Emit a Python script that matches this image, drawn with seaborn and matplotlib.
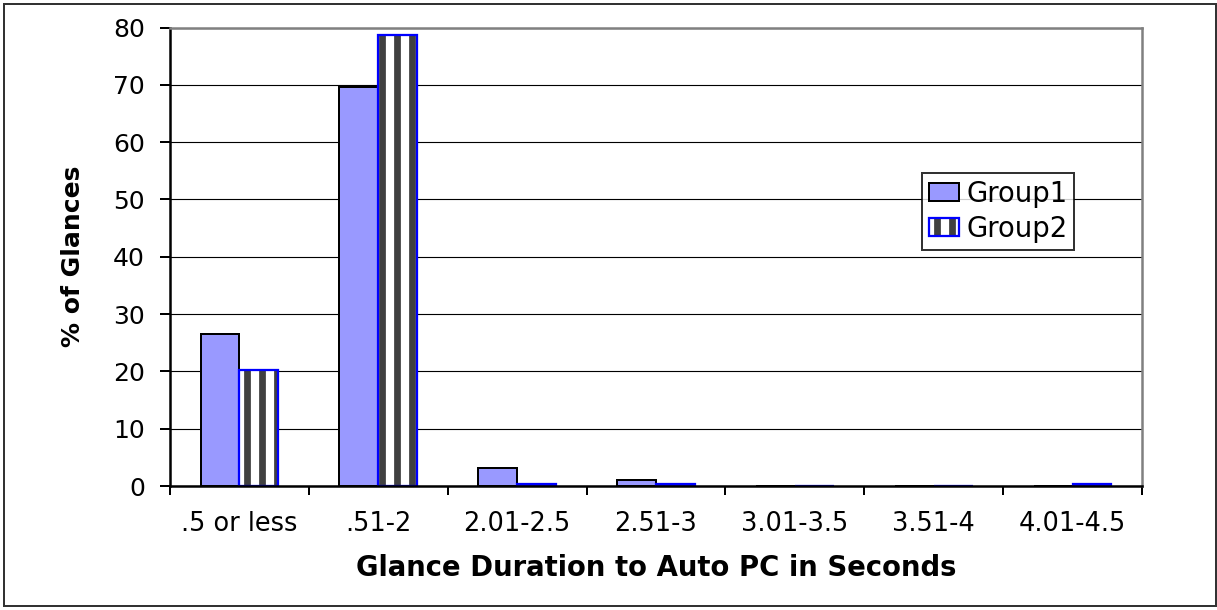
import numpy as np
import matplotlib
matplotlib.use("Agg")
import matplotlib.pyplot as plt
from matplotlib.patches import Rectangle
from matplotlib.legend_handler import HandlerTuple
import pandas as pd
import seaborn as sns

categories = ['.5 or less', '.51-2', '2.01-2.5', '2.51-3', '3.01-3.5', '3.51-4', '4.01-4.5']
group1 = [26.5, 69.6, 3.2, 1.1, 0, 0, 0]
group2 = [20.2, 78.7, 0.3, 0.3, 0, 0, 0.3]
groups = ['Group1', 'Group2']
y_ticks = [0, 10, 20, 30, 40, 50, 60, 70, 80]

df = pd.DataFrame({
    'duration': categories * 2,
    'pct': group1 + group2,
    'group': ['Group1'] * len(categories) + ['Group2'] * len(categories),
})

sns.set_style('white')
plt.rcParams['font.family'] = ['DejaVu Sans']
plt.rcParams['text.color'] = 'black'
plt.rcParams['axes.labelcolor'] = 'black'
plt.rcParams['xtick.color'] = 'black'
plt.rcParams['ytick.color'] = 'black'
plt.rcParams['hatch.linewidth'] = 5.4

DPI = 90
fig = plt.figure(figsize=(1217 / DPI, 610 / DPI), dpi=DPI)
ax = fig.add_axes([170 / 1217, 1 - 486 / 610, 972 / 1217, 458.5 / 610])

sns.barplot(data=df, x='duration', y='pct', hue='group', order=categories,
            hue_order=groups, palette={'Group1': '#9999FF', 'Group2': 'white'},
            width=0.56, gap=0, saturation=1, ax=ax, legend=False, zorder=2)

# group1: black outline
for p in ax.containers[0]:
    p.set_edgecolor('black')
    p.set_linewidth(1.6)

# group2: dark stripes + blue outline drawn on top
outlines = []
for p in ax.containers[1]:
    p.set_hatch('|')
    p.set_edgecolor('#404040')
    p.set_linewidth(0)
    r = Rectangle((p.get_x(), p.get_y()), p.get_width(), p.get_height(),
                  fill=False, edgecolor='#0000FF', lw=1.8, zorder=2.5)
    ax.add_patch(r)
    outlines.append(r)

ax.set_xlim(-0.5, len(categories) - 0.5)
ax.set_ylim(0, 80)
ax.set_yticks(y_ticks)
ax.yaxis.grid(True, color='black', lw=0.9)
ax.set_axisbelow(True)

ax.set_xticks(np.arange(len(categories)))
ax.set_xticklabels(categories)
ax.set_xticks(np.arange(len(categories) + 1) - 0.5, minor=True)
ax.tick_params(axis='x', which='major', length=0, pad=20, labelsize=20.5)
ax.tick_params(axis='x', which='minor', length=7.5, width=1.6, direction='out')
ax.tick_params(axis='y', length=8, width=1.6, direction='out', pad=12, labelsize=20)
ax.tick_params(bottom=True, left=True, which='both')

for s in ['left', 'bottom']:
    ax.spines[s].set_color('black')
    ax.spines[s].set_linewidth(2)
    ax.spines[s].set_zorder(5)
for s in ['top', 'right']:
    ax.spines[s].set_color('#808080')
    ax.spines[s].set_linewidth(2)
    ax.spines[s].set_zorder(5)

ax.set_xlabel('Glance Duration to Auto PC in Seconds', fontsize=22, fontweight='bold', va='center')
ax.set_ylabel('% of Glances', fontsize=20, fontweight='bold', va='center')
ax.xaxis.set_label_coords(0.5, -0.179)
ax.yaxis.set_label_coords(-0.1, 0.5)

leg = ax.legend(handles=[ax.containers[0][0], (ax.containers[1][0], outlines[0])],
                labels=groups, handler_map={tuple: HandlerTuple(ndivide=1)},
                loc='upper left', bbox_to_anchor=(0.7737, 0.6827), borderaxespad=0,
                fontsize=22, frameon=True, fancybox=False, edgecolor='black',
                handlelength=1.1, handleheight=0.6, handletextpad=0.25,
                labelspacing=0.25, borderpad=0.25)
leg.get_frame().set_linewidth(1.6)
leg.set_zorder(6)

fig.patches.append(Rectangle((4 / 1217, 4 / 610), 1212 / 1217, 602 / 610,
                             transform=fig.transFigure, fill=False,
                             edgecolor='#333333', lw=1.6))

fig.savefig('out.png', dpi=DPI)
